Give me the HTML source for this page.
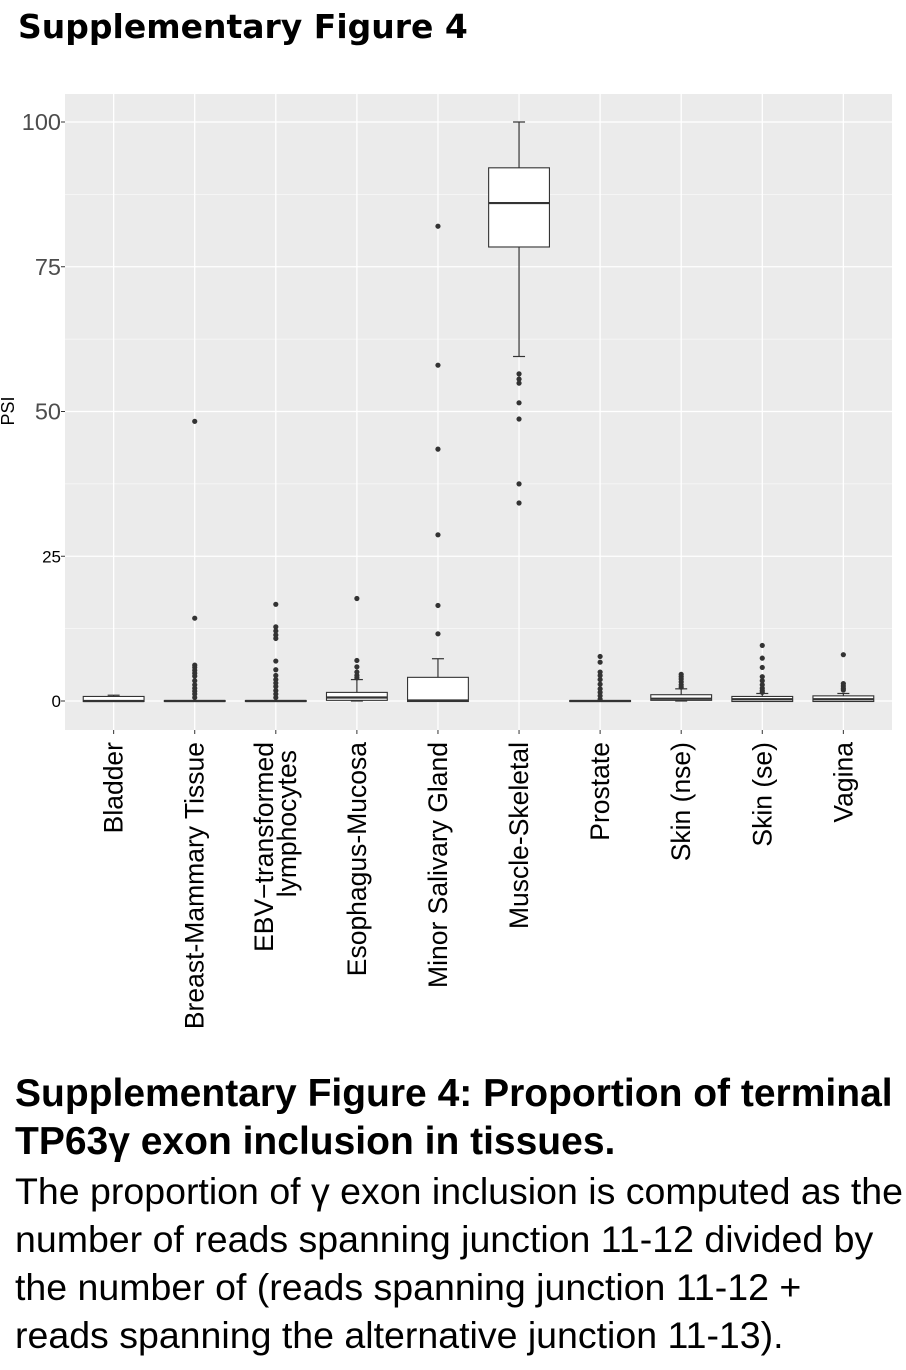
<!DOCTYPE html>
<html><head><meta charset="utf-8"><style>
body{margin:0;background:#fff;width:906px;height:1370px;overflow:hidden;font-family:"Liberation Sans",sans-serif}
#title{position:absolute;left:18px;top:7px;font:bold 33px "DejaVu Sans","Liberation Sans",sans-serif;color:#000}
#cap{position:absolute;left:15px;top:1070px;width:900px;font-size:37.5px;line-height:48.3px;color:#000;white-space:nowrap}
#cap b{display:block;font-size:39px}
</style></head><body>
<div id="title">Supplementary Figure 4</div>
<svg id="chart" width="906" height="1060" style="position:absolute;left:0;top:0"></svg>
<div id="cap"><b>Supplementary Figure 4: Proportion of terminal<br>TP63γ exon inclusion in tissues.</b>The proportion of γ exon inclusion is computed as the<br>number of reads spanning junction 11-12 divided by<br>the number of (reads spanning junction 11-12 +<br>reads spanning the alternative junction 11-13).</div>
<script>
const categories=["Bladder","Breast-Mammary Tissue","EBV\u2212transformed|lymphocytes","Esophagus-Mucosa","Minor Salivary Gland","Muscle-Skeletal","Prostate","Skin (nse)","Skin (se)","Vagina"];
const whiskLow=[0,0,0,0,0,59.5,0,0,0,0];
const q1=[0,0,0,0.2,0,78.5,0,0.2,0,0];
const median=[0,0,0,0.6,0.1,86,0,0.4,0.3,0.3];
const q3=[0.7,0,0,1.4,4.0,92,0,1.0,0.7,0.8];
const whiskHigh=[1.0,0,0,3.7,7.3,100,0,2.1,1.3,1.3];
const outliers=[[],[48.3,14.3,6.2,5.8,5.3,4.8,4.3,3.5,2.8,2.2,1.7,1.2,0.6],[16.7,12.8,12.1,11.4,10.8,6.9,5.4,4.4,3.7,3.1,2.5,1.8,1.2,0.6],[17.7,7.0,5.9,5.0,4.4,4.0],[82,58,43.5,28.7,16.5,11.6],[56.5,55.6,54.9,51.5,48.7,37.5,34.2],[7.7,6.7,5.0,4.4,3.7,2.9,2.1,1.5,0.9,0.3],[4.6,4.2,3.8,3.3,2.8,2.4],[9.6,7.4,5.8,4.2,3.5,2.8,2.2,1.8,1.5],[8.0,3.0,2.6,2.2,1.9]];
const yTicks=[0,25,50,75,100];
const NS="http://www.w3.org/2000/svg",svg=document.getElementById("chart");
const L=65,R=892,T=94,B=730;
const y=v=>701-5.79*v;
const step=(R-L)/(categories.length-1+1.2);
const x=i=>L+step*(0.6+i);
function mk(t,a,p){const e=document.createElementNS(NS,t);for(const k in a)e.setAttribute(k,a[k]);(p||svg).appendChild(e);return e;}
const bg=mk("rect",{x:L,y:T,width:R-L,height:B-T,fill:"#ebebeb"});


for(let i=0;i<yTicks.length-1;i++){const m=(yTicks[i]+yTicks[i+1])/2;mk("line",{x1:L,x2:R,y1:y(m),y2:y(m),stroke:"#fff","stroke-width":0.6});}
yTicks.forEach((v,i)=>{
 const g=mk("line",{x1:L,x2:R,y1:y(v),y2:y(v),stroke:"#fff","stroke-width":1.3});
 
 
 mk("line",{x1:L-4,x2:L,y1:y(v),y2:y(v),stroke:"#333","stroke-width":1});
 const big=v>=50;
 const t=mk("text",{x:L-4,y:y(v)+(big?8:6),"text-anchor":"end","font-size":big?23.5:17,fill:big?"#4d4d4d":"#000"});
 t.textContent=v;
 
 
});
categories.forEach((c,i)=>mk("line",{x1:x(i),x2:x(i),y1:T,y2:B,stroke:"#fff","stroke-width":1.3}));
const bw=step*0.75;
categories.forEach((c,i)=>{
 const cx=x(i),g=mk("g",{});
 
 
 mk("line",{x1:cx,x2:cx,y1:y(whiskHigh[i]),y2:y(q3[i]),stroke:"#333","stroke-width":1.2},g);
 mk("line",{x1:cx,x2:cx,y1:y(whiskLow[i]),y2:y(q1[i]),stroke:"#333","stroke-width":1.2},g);
 mk("line",{x1:cx-6,x2:cx+6,y1:y(whiskHigh[i]),y2:y(whiskHigh[i]),stroke:"#333","stroke-width":1.2},g);
 mk("line",{x1:cx-6,x2:cx+6,y1:y(whiskLow[i]),y2:y(whiskLow[i]),stroke:"#333","stroke-width":1.2},g);
 mk("rect",{x:cx-bw/2,y:y(q3[i])-0.5,width:bw,height:y(q1[i])-y(q3[i])+1,fill:"#fff",stroke:"#333","stroke-width":1.1},g);
 mk("line",{x1:cx-bw/2,x2:cx+bw/2,y1:y(median[i]),y2:y(median[i]),stroke:"#333","stroke-width":2.2},g);
 outliers[i].forEach(v=>{const d=mk("circle",{cx:cx,cy:y(v),r:2.6,fill:"#333"},g);
  
  });
 mk("line",{x1:cx,x2:cx,y1:B,y2:B+4,stroke:"#333","stroke-width":1});
 const parts=c.split('|');
 const t=mk("text",{transform:`translate(${cx+(parts.length>1?-3:9)},742) rotate(-90)`,"text-anchor":"end","font-size":26.5,fill:"#000"});
 
 
 parts.forEach((p,k)=>{const s=mk("tspan",{x:parts.length>1&&k==1?-8:0,dy:k?23:0},t);s.textContent=p;});
});
const yl=mk("text",{transform:"translate(14,411) rotate(-90)","text-anchor":"middle","font-size":18,fill:"#000"});
yl.textContent="PSI";


</script>
</body></html>
